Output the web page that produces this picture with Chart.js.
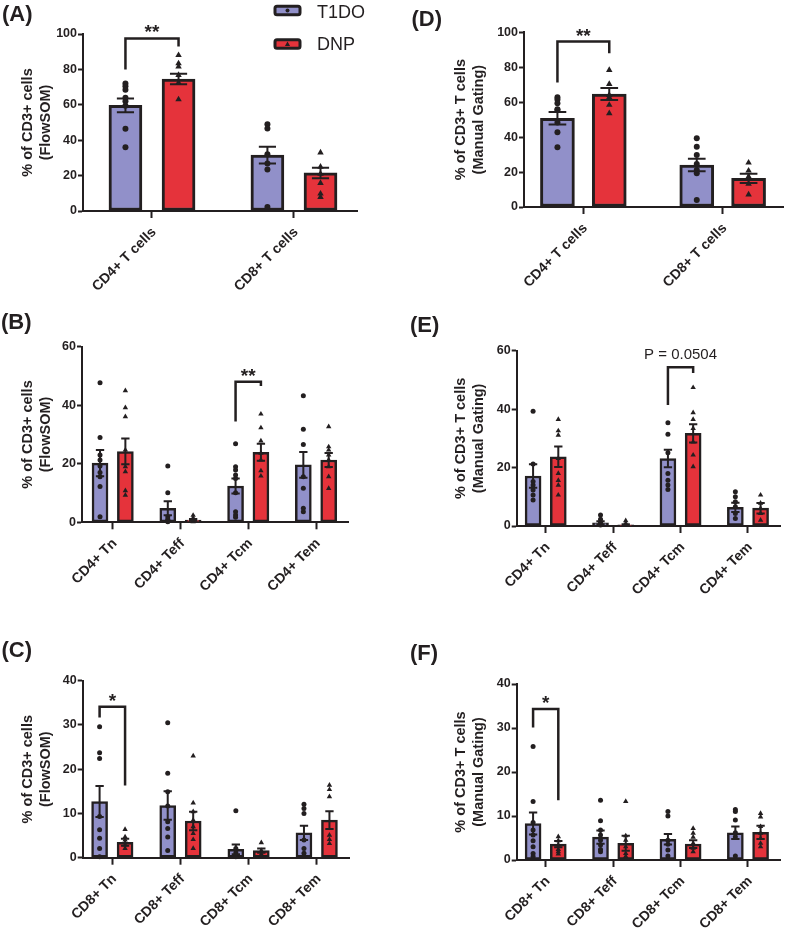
<!DOCTYPE html>
<html><head><meta charset="utf-8">
<script src="https://cdn.jsdelivr.net/npm/chart.js@4.4.1/dist/chart.umd.min.js"></script>
<style>
html,body{margin:0;padding:0;background:#fff;}
body{width:787px;height:929px;position:relative;overflow:hidden;}
canvas{position:absolute;}
</style></head><body>
<canvas id="cA" width="395" height="300" style="left:0px;top:0px"></canvas>
<canvas id="cD" width="392" height="300" style="left:395px;top:0px"></canvas>
<canvas id="cB" width="395" height="300" style="left:0px;top:300px"></canvas>
<canvas id="cE" width="392" height="300" style="left:395px;top:300px"></canvas>
<canvas id="cC" width="395" height="329" style="left:0px;top:600px"></canvas>
<canvas id="cF" width="392" height="329" style="left:395px;top:600px"></canvas>
<script>
// ---------- DATA ----------
const groups = ['T1DO', 'DNP'];
const catsTotal = ['CD4+ T cells', 'CD8+ T cells'];
const cats4 = ['CD4+ Tn', 'CD4+ Teff', 'CD4+ Tcm', 'CD4+ Tem'];
const cats8 = ['CD8+ Tn', 'CD8+ Teff', 'CD8+ Tcm', 'CD8+ Tem'];
const yTitleFlow = ['% of CD3+ cells', '(FlowSOM)'];
const yTitleManual = ['% of CD3+ T cells', '(Manual Gating)'];
const ticks100 = [0, 20, 40, 60, 80, 100];
const ticks60 = [0, 20, 40, 60];
const ticks40 = [0, 10, 20, 30, 40];

// (A) FlowSOM, CD4/CD8
const A_t1doMean = [59.7, 31.6];
const A_t1doSem  = [3.9, 4.7];
const A_dnpMean  = [74.6, 21.5];
const A_dnpSem   = [3.0, 3.0];
const A_t1doPts  = [[72, 70.5, 68.5, 64, 62, 59.5, 46.5, 36], [49, 46.6, 32, 26.8, 23.4, 2.3]];
const A_dnpPts   = [[88, 83.4, 81.5, 76.8, 72.5, 63], [33, 25, 21, 15.8, 9.8, 7.9]];
const A_sig      = [0, 80, 97.5, 93, '**'];

// (D) Manual gating, CD4/CD8
const D_t1doMean = [50.8, 24.0];
const D_t1doSem  = [3.6, 3.6];
const D_dnpMean  = [64.7, 16.4];
const D_dnpSem   = [3.4, 2.6];
const D_t1doPts  = [[62.8, 61.6, 59.4, 56, 55.5, 48.3, 42.8, 34.2], [39.3, 34.5, 29.8, 24.6, 21.2, 19.3, 4]];
const D_dnpPts   = [[78.4, 70.4, 64.1, 62.8, 58.4, 53.6], [25.4, 20.8, 17.4, 13.2, 7.1]];
const D_sig      = [0, 71.2, 94.7, 88, '**'];

// (B) FlowSOM, CD4 subsets
const B_t1doMean = [20.2, 4.8, 12.4, 19.6];
const B_t1doSem  = [4.5, 2.4, 2.6, 4.4];
const B_dnpMean  = [24.2, 0.8, 23.9, 21.3];
const B_dnpSem   = [4.4, 0.3, 2.9, 2.4];
const B_t1doPts  = [[47.7, 29, 23, 21.3, 19.2, 17, 15.6, 12.2, 1.9], [19.2, 10.1, 1.9, 1, 0.5, 0.2],
                    [26.8, 19, 17.9, 16.2, 15, 10.1, 3.6, 2.5, 1.7], [43.2, 31.8, 26.6, 15.6, 11.6, 4.8, 3.6]];
const B_dnpPts   = [[45, 39.2, 36.1, 24.7, 19, 17.3, 10.8, 9.3], [2.4, 1.5, 1, 0.7, 0.4, 0.2],
                    [37, 32.3, 27.8, 23.6, 21.3, 17.6, 15.8], [32.7, 25.8, 24.7, 23, 21.3, 19, 15.6, 11.6]];
const B_sig      = [2, 34.4, 48, 46.6, '**'];

// (E) Manual gating, CD4 subsets
const E_t1doMean = [17.1, 1.1, 23.1, 6.4];
const E_t1doSem  = [4.0, 0.5, 3.0, 1.6];
const E_dnpMean  = [23.7, 0.4, 31.7, 6.1];
const E_dnpSem   = [3.5, 0.2, 3.1, 1.8];
const E_t1doPts  = [[39.3, 21.2, 15.2, 14, 12.3, 10.6, 8.9], [3.8, 2.3, 1.1, 0.7, 0.3],
                    [35.3, 31.4, 25.1, 18, 15.7, 14, 12.5], [11.7, 10, 8.3, 6.6, 4.3, 2.6]];
const E_dnpPts   = [[36.5, 32.6, 31.1, 23.1, 18, 15.6, 14, 10.6], [1.8, 0.9, 0.3],
                    [47.4, 38.8, 36.5, 33.4, 28.8, 24.3, 20.3], [10.6, 7.8, 6, 4.3, 2]];
const E_sig      = [2, 41.4, 54.3, 52.4, 'P = 0.0504'];

// (C) FlowSOM, CD8 subsets
const C_t1doMean = [12.7, 11.8, 1.9, 5.6];
const C_t1doSem  = [3.5, 3.2, 1.1, 1.6];
const C_dnpMean  = [3.5, 8.3, 1.6, 8.5];
const C_dnpSem   = [0.8, 2.1, 0.5, 2.0];
const C_t1doPts  = [[29.6, 23.7, 22.4, 9.3, 6.3, 4.4, 2.1, 0.2], [30.5, 19.1, 14.9, 11.7, 8.1, 6.6, 4.7, 1.6],
                    [10.6, 2.1, 1.1, 0.6, 0.2], [12.1, 11.1, 10, 4, 2.1, 1]];
const C_dnpPts   = [[6.4, 4.7, 4, 2.9, 2.1], [23, 12.4, 10.4, 8.5, 7, 5.5, 4.1, 2.1],
                    [3.4, 1.6, 0.8, 0.4], [16.4, 15.4, 13.8, 5.1, 4.1, 3.2]];
const C_sig      = [0, 31.7, 34.1, 16.3, '*'];

// (F) Manual gating, CD8 subsets
const F_t1doMean = [8.3, 5.2, 4.7, 6.2];
const F_t1doSem  = [2.5, 1.5, 1.2, 1.4];
const F_dnpMean  = [3.6, 3.8, 3.6, 6.3];
const F_dnpSem   = [0.7, 1.7, 0.9, 1.5];
const F_t1doPts  = [[25.8, 13.3, 8.5, 6.8, 5.7, 4.4, 3, 1.5, 0.8], [13.6, 8.9, 6.8, 5.7, 4.5, 3.4, 2.4, 1.9],
                    [11, 10, 4.5, 3.6, 2.3, 0.9], [11.5, 11, 9.1, 6.2, 5.3, 0.9]];
const F_dnpPts   = [[5.3, 4.4, 3.4, 2.4, 1.9, 1.4], [13.3, 5.5, 4.5, 3, 1.5, 0.8],
                    [7.2, 6.1, 5.2, 3.8, 2.7, 1.9], [10.6, 9.8, 7.6, 6.1, 4.9, 3.8, 3]];
const F_sig      = [0, 30.1, 34.3, 13.6, '*'];

// ---------- STYLE ----------
const DARK = '#231F20';
const PURPLE = '#9190C9';
const RED = '#E5333B';
const FAM = "'Liberation Sans', Arial, Helvetica, sans-serif";
Chart.defaults.font.family = FAM;
Chart.defaults.color = DARK;

const errPlugin = {
  id: 'errbars',
  afterDatasetsDraw(chart) {
    const ctx = chart.ctx, ys = chart.scales.y;
    chart.data.datasets.forEach((ds, k) => {
      if (!ds.sem) return;
      const meta = chart.getDatasetMeta(k);
      const hw = ds.barThickness * 0.26;
      ctx.save();
      ctx.strokeStyle = DARK; ctx.lineWidth = 2; ctx.lineCap = 'butt';
      meta.data.forEach((el, i) => {
        const m = ds.data[i].y, s = ds.sem[i];
        const yt = ys.getPixelForValue(m + s), yb = ys.getPixelForValue(m - s);
        ctx.beginPath();
        ctx.moveTo(el.x, yt); ctx.lineTo(el.x, yb);
        ctx.moveTo(el.x - hw, yt); ctx.lineTo(el.x + hw, yt);
        ctx.moveTo(el.x - hw, yb); ctx.lineTo(el.x + hw, yb);
        ctx.stroke();
      });
      ctx.restore();
    });
  }
};

const sigPlugin = {
  id: 'sig',
  afterDraw(chart, args, o) {
    if (!o || !o.sig) return;
    const [cat, y1, top, y2, text] = o.sig;
    const xs = chart.scales.x, ys = chart.scales.y, ctx = chart.ctx;
    const x1 = xs.getPixelForValue(cat - o.d), x2 = xs.getPixelForValue(cat + o.d);
    const pt = ys.getPixelForValue(top);
    ctx.save();
    ctx.strokeStyle = DARK; ctx.lineWidth = 2.5; ctx.lineJoin = 'miter';
    ctx.beginPath();
    ctx.moveTo(x1, ys.getPixelForValue(y1));
    ctx.lineTo(x1, pt); ctx.lineTo(x2, pt);
    ctx.lineTo(x2, ys.getPixelForValue(y2));
    ctx.stroke();
    ctx.fillStyle = DARK;
    ctx.textAlign = 'center'; ctx.textBaseline = 'alphabetic';
    ctx.font = o.font;
    ctx.fillText(text, (x1 + x2) / 2, pt - o.gap);
    ctx.restore();
  }
};

const decoPlugin = {
  id: 'deco',
  afterDraw(chart, args, o) {
    if (!o) return;
    const ctx = chart.ctx;
    ctx.save();
    ctx.fillStyle = DARK;
    ctx.font = "bold 22px " + FAM;
    ctx.textAlign = 'left'; ctx.textBaseline = 'alphabetic';
    ctx.fillText(o.label, o.lx, o.ly);
    if (o.legend) {
      const items = [[groups[0], PURPLE, 'circle', 10.5, 13.3], [groups[1], RED, 'triangle', 44, 45.5]];
      items.forEach(([name, col, shape, cy, ty]) => {
        const bx = 273.5, bw = 28, bh = 11.5;
        ctx.fillStyle = col; ctx.strokeStyle = DARK; ctx.lineWidth = 3;
        ctx.beginPath();
        ctx.roundRect(bx + 1.5, cy - bh / 2 + 1.5, bw - 3, bh - 3, 2);
        ctx.fill(); ctx.stroke();
        ctx.fillStyle = DARK;
        ctx.beginPath();
        if (shape === 'circle') ctx.arc(bx + bw / 2, cy, 2, 0, Math.PI * 2);
        else { ctx.moveTo(bx + bw / 2, cy - 2.6); ctx.lineTo(bx + bw / 2 + 2.6, cy + 2); ctx.lineTo(bx + bw / 2 - 2.6, cy + 2); ctx.closePath(); }
        ctx.fill();
        ctx.font = "18px " + FAM;
        ctx.textBaseline = 'middle';
        ctx.fillText(name, 317, ty);
      });
    }
    ctx.restore();
  }
};

function panel(id, c) {
  const cv = document.getElementById(id);
  const W = cv.width, H = cv.height;
  const [al, at, ar, ab] = c.area;
  const yWidth = al - c.left, padTop = at - c.top, padRight = c.left + W - ar, xHeight = c.top + H - ab;
  const d = c.d;
  const bars = (means, off) => means.map((m, i) => ({ x: i + off, y: m }));
  const pts = (arr, off) => arr.flatMap((vals, i) => vals.map(v => ({ x: i + off, y: v })));
  const yMax = c.yTicks[c.yTicks.length - 1];
  new Chart(cv, {
    type: 'bar',
    data: {
      datasets: [
        { type: 'bar', label: groups[0], data: bars(c.t1doMean, -d), sem: c.t1doSem, backgroundColor: PURPLE,
          borderColor: DARK, borderWidth: c.bw, borderSkipped: false, grouped: false, barThickness: c.barW, order: 2, clip: false },
        { type: 'bar', label: groups[1], data: bars(c.dnpMean, d), sem: c.dnpSem, backgroundColor: RED,
          borderColor: DARK, borderWidth: c.bw, borderSkipped: false, grouped: false, barThickness: c.barW, order: 2, clip: false },
        { type: 'scatter', label: groups[0] + ' pts', data: pts(c.t1doPts, -d), pointStyle: 'circle', pointRadius: c.pr,
          backgroundColor: DARK, borderColor: DARK, borderWidth: 0, order: 1, clip: false },
        { type: 'scatter', label: groups[1] + ' pts', data: pts(c.dnpPts, d), pointStyle: 'triangle', pointRadius: c.pr * 1.25,
          backgroundColor: DARK, borderColor: DARK, borderWidth: 0, order: 1, clip: false }
      ]
    },
    options: {
      responsive: false, animation: false, devicePixelRatio: 1, events: [],
      layout: { padding: { left: 0, top: padTop, right: padRight, bottom: 0 } },
      plugins: {
        legend: { display: false }, tooltip: { enabled: false },
        sig: { sig: c.sig, d: d, font: c.sigFont, gap: c.sigGap },
        deco: { label: c.label, lx: c.lx - c.left, ly: c.ly - c.top, legend: !!c.legend }
      },
      scales: {
        x: {
          type: 'linear', min: c.xMin, max: c.xMax, offset: false,
          grid: { display: true, drawOnChartArea: false, drawTicks: true, tickLength: 7, tickWidth: 2, tickColor: DARK, offset: false },
          border: { display: true, color: DARK, width: 2 },
          afterBuildTicks: s => { s.ticks = c.cats.map((n, i) => ({ value: i })); },
          ticks: { autoSkip: false, minRotation: 45, maxRotation: 45, padding: 6, labelOffset: 2, color: DARK,
                   font: { size: 14, weight: 'bold' }, callback: v => c.cats[Math.round(v)] },
          afterFit: s => { s.height = xHeight; }
        },
        y: {
          type: 'linear', min: 0, max: yMax,
          grid: { display: true, drawOnChartArea: false, drawTicks: true, tickLength: 5, tickWidth: 2, tickColor: DARK },
          border: { display: true, color: DARK, width: 2 },
          afterBuildTicks: s => { s.ticks = c.yTicks.map(v => ({ value: v })); },
          ticks: { padding: 1, color: DARK, font: { size: 12.5, weight: 'bold' } },
          title: { display: true, text: c.yTitle, color: DARK, font: { size: 14.5, weight: 'bold', lineHeight: 1.24 },
                   padding: { top: c.titlePad, bottom: 0 } },
          afterFit: s => { s.width = yWidth; }
        }
      }
    },
    plugins: [errPlugin, sigPlugin, decoPlugin]
  });
}

const starFont = "bold 19px " + FAM;
panel('cA', { left: 0, top: 0, area: [83, 34, 357, 211], xMin: -0.486, xMax: 1.444, d: 0.187, barW: 33, bw: 3, pr: 3,
  cats: catsTotal, yTicks: ticks100, yTitle: yTitleFlow, titlePad: 19.3,
  t1doMean: A_t1doMean, t1doSem: A_t1doSem, dnpMean: A_dnpMean, dnpSem: A_dnpSem, t1doPts: A_t1doPts, dnpPts: A_dnpPts,
  sig: A_sig, sigFont: starFont, sigGap: 0, label: '(A)', lx: 2, ly: 20.5, legend: true });
panel('cD', { left: 395, top: 0, area: [524, 32.3, 786, 207], xMin: -0.426, xMax: 1.433, d: 0.186, barW: 34, bw: 3, pr: 3,
  cats: catsTotal, yTicks: ticks100, yTitle: yTitleManual, titlePad: 57,
  t1doMean: D_t1doMean, t1doSem: D_t1doSem, dnpMean: D_dnpMean, dnpSem: D_dnpSem, t1doPts: D_t1doPts, dnpPts: D_dnpPts,
  sig: D_sig, sigFont: starFont, sigGap: 0, label: '(D)', lx: 411.5, ly: 25.5 });
panel('cB', { left: 0, top: 300, area: [82, 346.7, 348, 522.3], xMin: -0.453, xMax: 3.472, d: 0.187, barW: 16, bw: 2.5, pr: 2.5,
  cats: cats4, yTicks: ticks60, yTitle: yTitleFlow, titlePad: 19.3,
  t1doMean: B_t1doMean, t1doSem: B_t1doSem, dnpMean: B_dnpMean, dnpSem: B_dnpSem, t1doPts: B_t1doPts, dnpPts: B_dnpPts,
  sig: B_sig, sigFont: starFont, sigGap: 0, label: '(B)', lx: 1, ly: 328.5 });
panel('cE', { left: 395, top: 300, area: [516.7, 350.7, 780, 526], xMin: -0.43, xMax: 3.475, d: 0.187, barW: 16, bw: 2.5, pr: 2.5,
  cats: cats4, yTicks: ticks60, yTitle: yTitleManual, titlePad: 57,
  t1doMean: E_t1doMean, t1doSem: E_t1doSem, dnpMean: E_dnpMean, dnpSem: E_dnpSem, t1doPts: E_t1doPts, dnpPts: E_dnpPts,
  sig: E_sig, sigFont: "15px " + FAM, sigGap: 8, label: '(E)', lx: 410, ly: 332 });
panel('cC', { left: 0, top: 600, area: [82.7, 680.7, 349, 857.7], xMin: -0.435, xMax: 3.474, d: 0.187, barW: 16, bw: 2.5, pr: 2.5,
  cats: cats8, yTicks: ticks40, yTitle: yTitleFlow, titlePad: 19.3,
  t1doMean: C_t1doMean, t1doSem: C_t1doSem, dnpMean: C_dnpMean, dnpSem: C_dnpSem, t1doPts: C_t1doPts, dnpPts: C_dnpPts,
  sig: C_sig, sigFont: starFont, sigGap: 0, label: '(C)', lx: 1.5, ly: 657 });
panel('cF', { left: 395, top: 600, area: [516.7, 684, 780, 860], xMin: -0.43, xMax: 3.475, d: 0.187, barW: 16, bw: 2.5, pr: 2.5,
  cats: cats8, yTicks: ticks40, yTitle: yTitleManual, titlePad: 57,
  t1doMean: F_t1doMean, t1doSem: F_t1doSem, dnpMean: F_dnpMean, dnpSem: F_dnpSem, t1doPts: F_t1doPts, dnpPts: F_dnpPts,
  sig: F_sig, sigFont: starFont, sigGap: 0, label: '(F)', lx: 410, ly: 660 });
</script>
</body></html>
